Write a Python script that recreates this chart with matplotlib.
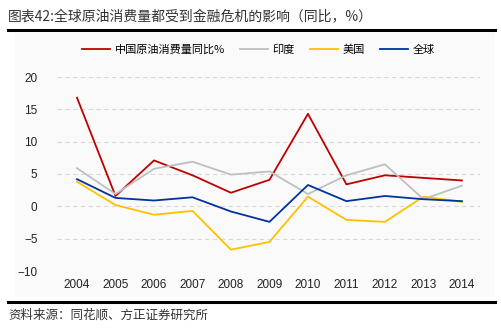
import matplotlib
matplotlib.use('Agg')
import matplotlib.pyplot as plt
from matplotlib.patches import Rectangle
from matplotlib.lines import Line2D

plt.rcParams['font.family'] = ['Noto Sans CJK SC', 'DejaVu Sans']
plt.rcParams['axes.unicode_minus'] = True

years = [2004, 2005, 2006, 2007, 2008, 2009, 2010, 2011, 2012, 2013, 2014]
china = [16.8, 1.6, 7.1, 4.8, 2.1, 4.1, 14.3, 3.4, 4.8, 4.4, 4.0]
india = [5.9, 1.9, 5.8, 6.9, 4.9, 5.4, 1.9, 4.8, 6.5, 1.1, 3.2]
usa = [3.8, 0.2, -1.3, -0.7, -6.7, -5.5, 1.5, -2.1, -2.4, 1.5, 0.7]
world = [4.2, 1.3, 0.9, 1.4, -0.8, -2.4, 3.3, 0.8, 1.6, 1.1, 0.8]

series_names = ['中国原油消费量同比%', '印度', '美国', '全球']
colors = ['#c00000', '#bfbfbf', '#ffc000', '#0033a0']

fig = plt.figure(figsize=(5.02, 3.35), dpi=100)

# light panel behind the chart
fig.patches.append(Rectangle((15 / 502, 1 - 297 / 335), 480 / 502, 264 / 335,
                             transform=fig.transFigure, facecolor='#fafafa',
                             edgecolor='none', zorder=-5))
# header / footer rules
fig.add_artist(Line2D([8 / 502, 495 / 502], [1 - 30 / 335, 1 - 30 / 335],
                      color='black', lw=2.2, transform=fig.transFigure))
fig.add_artist(Line2D([8 / 502, 495 / 502], [1 - 302 / 335, 1 - 302 / 335],
                      color='black', lw=2.2, transform=fig.transFigure))

fig.text(8 / 502, 1 - 17 / 335, '图表42:全球原油消费量都受到金融危机的影响（同比，%）',
         fontsize=10, va='center', ha='left', color='#333333')
fig.text(8 / 502, 1 - 315 / 335, '资料来源：同花顺、方正证券研究所',
         fontsize=9, va='center', ha='left', color='#333333', style='italic')

ax = fig.add_axes([57 / 502, 1 - 271 / 335, 423 / 502, 194 / 335])
ax.set_zorder(2)
ax.set_facecolor('none')

for vals, name, c in zip([china, india, usa, world], series_names, colors):
    ax.plot(years, vals, color=c, lw=1.3, label=name, clip_on=False)

ax.set_xlim(2003.48, 2014.47)
ax.set_ylim(-10, 20)
ax.set_yticks([-10, -5, 0, 5, 10, 15, 20])
ax.set_xticks(years)
ax.grid(axis='y', color='#d9d9d9', ls=(0, (4, 3)), lw=0.8)
ax.set_axisbelow(True)
for s in ax.spines.values():
    s.set_visible(False)
ax.tick_params(length=0, labelsize=8.5, colors='#222222', pad=6)
ax.tick_params(axis='y', pad=14)
for lbl in ax.get_xticklabels() + ax.get_yticklabels():
    lbl.set_fontfamily(['Liberation Sans', 'DejaVu Sans'])

ax.legend(loc='center', bbox_to_anchor=(0.515, 1 - 50 / 335), bbox_transform=fig.transFigure,
          ncol=4, frameon=False, fontsize=8, handlelength=2.5, columnspacing=1.4,
          handletextpad=0.4)

fig.savefig('out.png', dpi=100)
